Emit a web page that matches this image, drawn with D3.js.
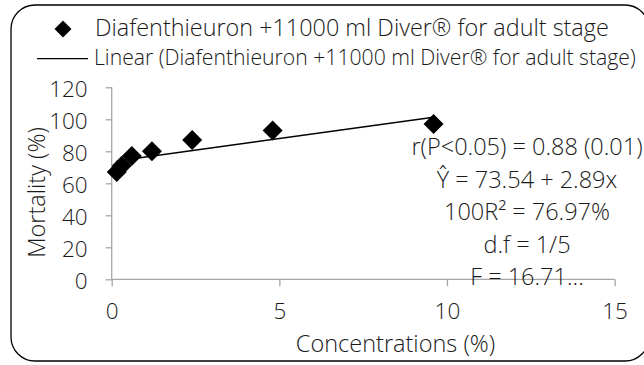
<!DOCTYPE html>
<html>
<head>
<meta charset="utf-8">
<script src="https://cdn.jsdelivr.net/npm/d3@7"></script>
<style>
  html, body { margin: 0; padding: 0; background: #fff; }
  svg { display: block; font-family: "Open Sans", sans-serif; font-weight: 300; }
</style>
</head>
<body>
<svg id="chart" width="644" height="365"></svg>
<script>
// Mortality of adult stage against concentration
const concentrations = [0.15, 0.3, 0.6, 1.2, 2.4, 4.8, 9.6];
const mortality = [67, 71, 77, 80, 87, 93, 97];

// Fitted linear trend: Y = a + b x
const trendIntercept = 73.54;
const trendSlope = 2.89;

const xTicks = [0, 5, 10, 15];
const yTicks = [0, 20, 40, 60, 80, 100, 120];

const seriesName = "Diafenthieuron +11000 ml Diver\u00AE for adult stage";
const statLines = [
  "r(P<0.05) = 0.88 (0.01)",
  "\u0176 = 73.54 + 2.89x",
  "100R\u00B2 = 76.97%",
  "d.f = 1/5",
  "F = 16.71..."
];

const svg = d3.select("#chart");
const textColor = "#1a1a1a";
const axisColor = "#a6a6a6";

// Rounded frame around the chart
svg.append("rect")
  .attr("x", 11).attr("y", 5)
  .attr("width", 638).attr("height", 356)
  .attr("rx", 24).attr("ry", 24)
  .attr("fill", "none").attr("stroke", "#000").attr("stroke-width", 1.3);

const x = d3.scaleLinear().domain([0, 15]).range([111.7, 614.6]);
const y = d3.scaleLinear().domain([0, 120]).range([279.3, 87.3]);

// Axes
const xAxis = d3.axisBottom(x).tickValues(xTicks).tickSize(7).tickPadding(17).tickFormat(d3.format("d"));
const yAxis = d3.axisLeft(y).tickValues(yTicks).tickSize(6).tickPadding(18).tickFormat(d3.format("d"));

const gx = svg.append("g").attr("transform", `translate(0,${y(0)})`).call(xAxis);
const gy = svg.append("g").attr("transform", `translate(${x(0)},0)`).call(yAxis);

[gx, gy].forEach(g => {
  g.select(".domain").attr("stroke", axisColor).attr("stroke-width", 1.3);
  g.selectAll(".tick line").attr("stroke", axisColor).attr("stroke-width", 1.3);
  g.selectAll(".tick text")
    .attr("fill", textColor)
    .style("font-size", "22.5px")
    .style("font-family", "'Open Sans', sans-serif")
    .style("font-weight", 300);
});
gy.selectAll(".tick text").attr("dy", "0.4em");
gx.select(".domain").attr("d", `M${x(0)},0H${x(15)}`);
gy.select(".domain").attr("d", `M0,${y(0)}V${y(120)}`);

// Axis titles
svg.append("text")
  .attr("x", 395.5).attr("y", 352)
  .attr("text-anchor", "middle")
  .attr("fill", textColor)
  .style("font-size", "23.5px")
  .text("Concentrations (%)");

svg.append("text")
  .attr("transform", "translate(45,192.5) rotate(-90)")
  .attr("text-anchor", "middle")
  .attr("fill", textColor)
  .style("font-size", "23.5px")
  .text("Mortality (%)");

// Trend line over the data range
const xMin = d3.min(concentrations), xMax = d3.max(concentrations);
svg.append("line")
  .attr("x1", x(xMin)).attr("y1", y(trendIntercept + trendSlope * xMin))
  .attr("x2", x(xMax)).attr("y2", y(trendIntercept + trendSlope * xMax))
  .attr("stroke", "#000").attr("stroke-width", 1.4);

// Diamond markers
const diamond = d3.symbol().type(d3.symbolSquare).size(200);
svg.append("g").selectAll("path")
  .data(concentrations.map((c, i) => [c, mortality[i]]))
  .join("path")
  .attr("d", diamond)
  .attr("transform", d => `translate(${x(d[0])},${y(d[1])}) rotate(45)`)
  .attr("fill", "#000");

// Statistics block
svg.append("g").selectAll("text")
  .data(statLines)
  .join("text")
  .attr("x", 527)
  .attr("y", (d, i) => 155 + i * 32.5)
  .attr("text-anchor", "middle")
  .attr("fill", textColor)
  .style("font-size", "23.5px")
  .text(d => d);

// Legend
const leg = svg.append("g");
leg.append("path")
  .attr("d", d3.symbol().type(d3.symbolSquare).size(144))
  .attr("transform", "translate(63,29) rotate(45)")
  .attr("fill", "#000");
leg.append("text")
  .attr("x", 95).attr("y", 36)
  .attr("fill", textColor)
  .style("font-size", "23.4px")
  .text(seriesName);
leg.append("line")
  .attr("x1", 37).attr("x2", 88).attr("y1", 58.7).attr("y2", 58.7)
  .attr("stroke", "#000").attr("stroke-width", 1.3);
leg.append("text")
  .attr("x", 94).attr("y", 65)
  .attr("fill", textColor)
  .style("font-size", "21.2px")
  .text(`Linear (${seriesName})`);
</script>
</body>
</html>
